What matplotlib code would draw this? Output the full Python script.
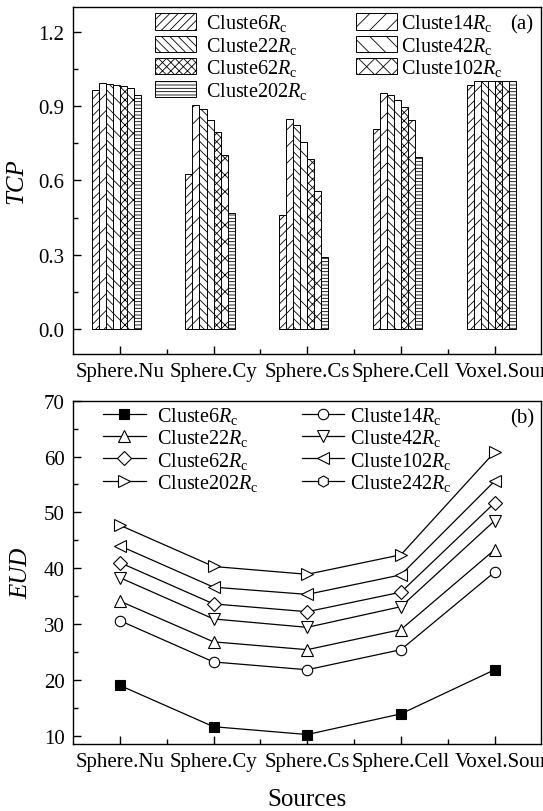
import numpy as np
import matplotlib
matplotlib.use("Agg")
import matplotlib.pyplot as plt
from matplotlib.ticker import MultipleLocator, FormatStrFormatter, FixedLocator
from matplotlib.transforms import ScaledTranslation

plt.rcParams['font.family'] = ['Liberation Serif', 'DejaVu Serif']
plt.rcParams['mathtext.fontset'] = 'custom'
plt.rcParams['mathtext.rm'] = 'Liberation Serif'
plt.rcParams['mathtext.it'] = 'Liberation Serif:italic'
plt.rcParams['hatch.linewidth'] = 0.6

# ---------------- data ----------------
sources = ["Sphere.Nu", "Sphere.Cy", "Sphere.Cs", "Sphere.Cell", "Voxel.Source"]

tcp_labels = ["Cluste6", "Cluste14", "Cluste22", "Cluste42", "Cluste62", "Cluste102", "Cluste202"]
tcp_c6 = [0.966, 0.625, 0.461, 0.806, 0.986]
tcp_c14 = [0.993, 0.902, 0.846, 0.953, 0.999]
tcp_c22 = [0.990, 0.889, 0.823, 0.946, 0.999]
tcp_c42 = [0.986, 0.842, 0.756, 0.922, 0.999]
tcp_c62 = [0.982, 0.795, 0.688, 0.897, 0.999]
tcp_c102 = [0.973, 0.702, 0.559, 0.843, 0.999]
tcp_c202 = [0.943, 0.468, 0.291, 0.696, 0.999]
tcp_series = [tcp_c6, tcp_c14, tcp_c22, tcp_c42, tcp_c62, tcp_c102, tcp_c202]

eud_labels = ["Cluste6", "Cluste14", "Cluste22", "Cluste42", "Cluste62", "Cluste102", "Cluste202", "Cluste242"]
eud_c6 = [19.0, 11.6, 10.2, 13.9, 21.8]
eud_c14 = [30.6, 23.2, 21.8, 25.4, 39.3]
eud_c22 = [34.1, 26.8, 25.4, 29.0, 43.3]
eud_c42 = [38.3, 30.9, 29.4, 33.1, 48.5]
eud_c62 = [41.0, 33.6, 32.2, 35.7, 51.7]
eud_c102 = [44.0, 36.6, 35.3, 38.8, 55.6]
eud_c202 = [47.7, 40.3, 38.9, 42.4, 60.8]
eud_c242 = []
eud_series = [eud_c6, eud_c14, eud_c22, eud_c42, eud_c62, eud_c102, eud_c202, eud_c242]

# ---------------- styles ----------------
hatches = ['////', '//', '\\\\\\\\', '\\\\', 'xxxx', 'xx', '-----']
markers = ['s', 'o', '^', 'v', 'D', '<', '>', 'h']
mfaces = ['black'] + ['white'] * 7
msizes = [7.5, 7.5, 8.5, 8.5, 6.8, 8.5, 8.5, 8]

fig = plt.figure(figsize=(5.43, 8.12), dpi=100)
ax1 = fig.add_axes([0.1344, 0.5628, 0.8628, 0.4277])
ax2 = fig.add_axes([0.1344, 0.0825, 0.8628, 0.4228])

x = np.arange(1, len(sources) + 1)
w = 0.075

for i, (vals, lab, h) in enumerate(zip(tcp_series, tcp_labels, hatches)):
    ax1.bar(x + (i - 3.5) * w, vals, width=w, facecolor='white', edgecolor='black',
            linewidth=0.7, hatch=h, label=lab + r'$R_{\rm c}$', zorder=2)

ax1.set_xlim(0.5, 5.5)
ax1.set_ylim(-0.1, 1.3)
ax1.yaxis.set_major_locator(MultipleLocator(0.3))
ax1.yaxis.set_minor_locator(MultipleLocator(0.15))
ax1.yaxis.set_major_formatter(FormatStrFormatter('%.1f'))
ax1.set_xticks(x)
ax1.set_xticklabels(sources)
ax1.xaxis.set_minor_locator(FixedLocator([1.5, 2.5, 3.5, 4.5]))
ax1.set_ylabel('TCP', fontsize=18, fontstyle='italic', labelpad=8)
ax1.text(0.958, 0.95, '(a)', transform=ax1.transAxes, fontsize=15, ha='center', va='center')

hdl, lbl = ax1.get_legend_handles_labels()
leg_kw = dict(loc='upper left', frameon=False, fontsize=14.5, handlelength=2.0,
              handleheight=0.85, labelspacing=0.07, borderpad=0.2, borderaxespad=0)
legA = ax1.legend([hdl[k] for k in [0, 2, 4, 6]], [lbl[k] for k in [0, 2, 4, 6]],
                  bbox_to_anchor=(0.167, 0.995), handletextpad=0.5, **leg_kw)
ax1.add_artist(legA)
ax1.legend([hdl[k] for k in [1, 3, 5]], [lbl[k] for k in [1, 3, 5]],
           bbox_to_anchor=(0.596, 0.995), handletextpad=0.2, **leg_kw)

for j, (vals, lab) in enumerate(zip(eud_series, eud_labels)):
    xx = x[:len(vals)]
    ax2.plot(xx, vals, color='black', linewidth=0.9, marker=markers[j],
             markersize=msizes[j], markerfacecolor=mfaces[j], markeredgecolor='black',
             markeredgewidth=0.8, label=lab + r'$R_{\rm c}$', clip_on=False, zorder=3)

ax2.set_xlim(0.5, 5.5)
ax2.set_ylim(8.5, 70)
ax2.yaxis.set_major_locator(MultipleLocator(10))
ax2.yaxis.set_minor_locator(MultipleLocator(5))
ax2.set_xticks(x)
ax2.set_xticklabels(sources)
ax2.xaxis.set_minor_locator(FixedLocator([1.5, 2.5, 3.5, 4.5]))
ax2.set_ylabel('EUD', fontsize=18, fontstyle='italic', labelpad=8)
ax2.set_xlabel('Sources', fontsize=18, labelpad=12)
ax2.text(0.958, 0.95, '(b)', transform=ax2.transAxes, fontsize=15, ha='center', va='center')

hdl, lbl = ax2.get_legend_handles_labels()
leg_kw2 = dict(loc='upper left', frameon=False, fontsize=14.5, handlelength=2.1,
               labelspacing=0.07, borderpad=0.2, borderaxespad=0)
legB = ax2.legend([hdl[k] for k in [0, 2, 4, 6]], [lbl[k] for k in [0, 2, 4, 6]],
                  bbox_to_anchor=(0.056, 1.0), handletextpad=0.55, **leg_kw2)
ax2.add_artist(legB)
ax2.legend([hdl[k] for k in [1, 3, 5, 7]], [lbl[k] for k in [1, 3, 5, 7]],
           bbox_to_anchor=(0.48, 1.0), handletextpad=0.3, **leg_kw2)

for ax in (ax1, ax2):
    for s in ax.spines.values():
        s.set_linewidth(1.0)
    ax.tick_params(axis='both', which='major', direction='in', length=6, width=1.0,
                   labelsize=15, pad=6)
    ax.tick_params(axis='both', which='minor', direction='in', length=3.5, width=1.0)
    ax.tick_params(axis='y', which='both', right=False)
    ax.tick_params(axis='x', which='both', top=False)
    # last category label sits a little to the right (it runs off the figure edge)
    last = ax.get_xticklabels()[-1]
    last.set_transform(last.get_transform() + ScaledTranslation(0.16, 0, fig.dpi_scale_trans))

fig.savefig('out.png', dpi=100)
